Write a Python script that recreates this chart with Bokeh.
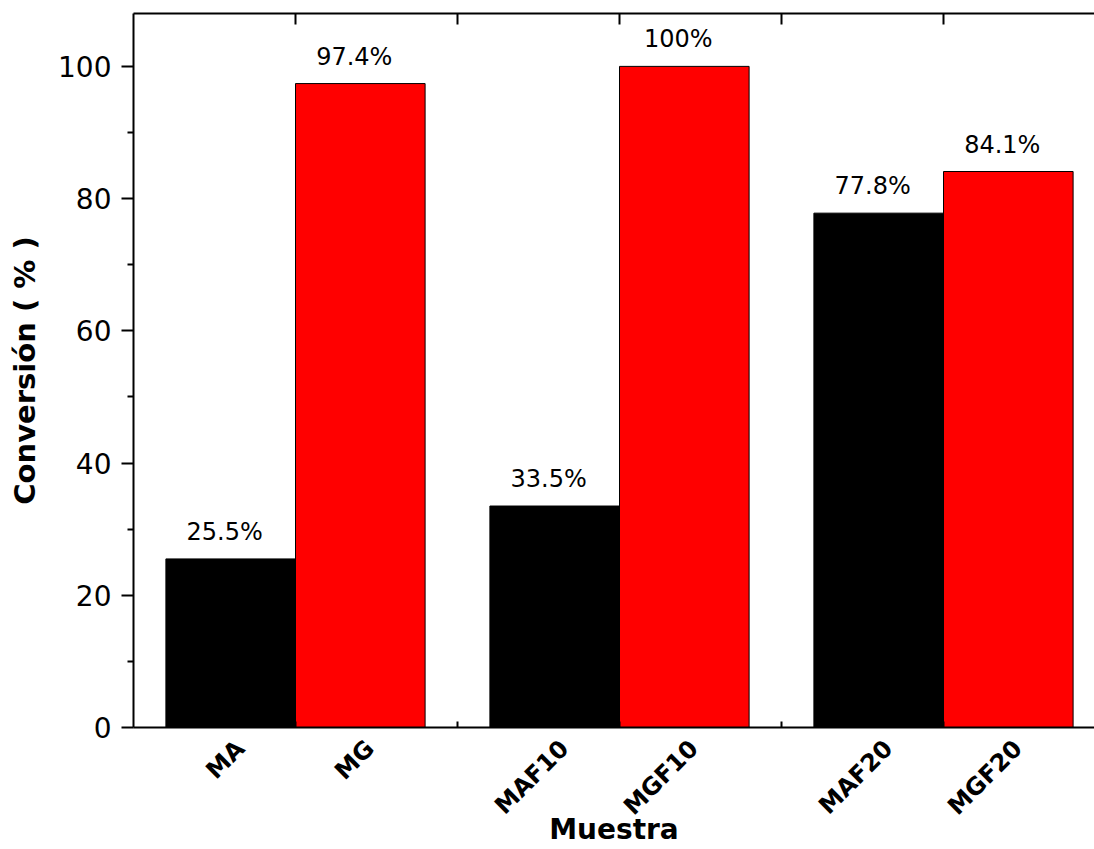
import math
from bokeh.plotting import figure
from bokeh.models import Range1d, FixedTicker, LinearAxis, ColumnDataSource
from bokeh.core.properties import value
from bokeh.embed import file_html
from bokeh.resources import INLINE

# ---- data ----
categories = ["MA", "MG", "MAF10", "MGF10", "MAF20", "MGF20"]
conversion = [25.5, 97.4, 33.5, 100.0, 77.8, 84.1]
value_labels = ["25.5%", "97.4%", "33.5%", "100%", "77.8%", "84.1%"]
y_ticks = [0, 20, 40, 60, 80, 100]
y_minor = [10, 30, 50, 70, 90]
x_title = "Muestra"
y_title = "Conversión ( % )"

# ---- layout / style ----
series_colors = ["#000000", "#FF0000"]
UNIT_PX = 16.2              # pixels per x unit
GROUP_STEP = 20             # x units between group centres
BAR_W = 8                   # x units per bar
LABEL_SHIFT = 0.6           # x units: rotated category labels sit slightly right of bar centre
W, H = 1094, 849
BL, BT, BB = 133, 13, 122
FONT = "DejaVu Sans"

n = len(categories)
xs = [GROUP_STEP // 2 + GROUP_STEP * (i // 2) + (-BAR_W // 2 if i % 2 == 0 else BAR_W // 2) for i in range(n)]
colors = [series_colors[i % 2] for i in range(n)]
label_ticks = [x + LABEL_SHIFT for x in xs]
boundary_ticks = [10, 20, 30, 40, 50]
frame_w = W - BL

p = figure(width=W, height=H,
           x_range=Range1d(0, frame_w / UNIT_PX), y_range=Range1d(0, 108),
           output_backend="svg", toolbar_location=None,
           min_border_left=BL, min_border_right=0, min_border_top=BT, min_border_bottom=BB,
           background_fill_color="white", border_fill_color="white")
p.outline_line_color = None
p.xgrid.visible = False
p.ygrid.visible = False

src = ColumnDataSource(dict(x=xs, top=conversion, color=colors, label=value_labels))
p.vbar(x="x", top="top", bottom=0, width=BAR_W, fill_color="color",
       line_color="black", line_width=1, source=src)
p.text(x="x", y="top", text="label", source=src, text_align="center",
       text_baseline="alphabetic", x_offset=-6, y_offset=-27,
       text_font=value(FONT), text_font_size=value("24px"), text_color="black")

# bottom axis
xa = p.xaxis[0]
xa.ticker = FixedTicker(ticks=label_ticks, minor_ticks=boundary_ticks)
xa.major_label_overrides = {t: c for t, c in zip(label_ticks, categories)}
xa.major_tick_in = 0
xa.major_tick_out = 0
xa.minor_tick_in = 6
xa.minor_tick_out = 0
xa.minor_tick_line_width = 2
xa.minor_tick_line_color = "black"
xa.axis_line_width = 2
xa.axis_line_color = "black"
xa.major_label_orientation = math.pi / 4
xa.major_label_text_font = FONT
xa.major_label_text_font_style = "bold"
xa.major_label_text_font_size = "24px"
xa.major_label_text_color = "black"
xa.major_label_standoff = 17
xa.axis_label = x_title
xa.axis_label_text_font = FONT
xa.axis_label_text_font_style = "bold"
xa.axis_label_text_font_size = "28px"
xa.axis_label_text_color = "black"
xa.axis_label_standoff = -20

# left axis
ya = p.yaxis[0]
ya.ticker = FixedTicker(ticks=y_ticks, minor_ticks=y_minor)
ya.major_tick_in = 0
ya.major_tick_out = 12
ya.minor_tick_in = 0
ya.minor_tick_out = 6
ya.major_tick_line_width = 2
ya.minor_tick_line_width = 2
ya.major_tick_line_color = "black"
ya.minor_tick_line_color = "black"
ya.axis_line_width = 2
ya.axis_line_color = "black"
ya.major_label_text_font = FONT
ya.major_label_text_font_size = "28px"
ya.major_label_text_color = "black"
ya.major_label_standoff = 10
ya.axis_label = y_title
ya.axis_label_text_font = FONT
ya.axis_label_text_font_style = "bold"
ya.axis_label_text_font_size = "29px"
ya.axis_label_text_color = "black"
ya.axis_label_standoff = 13

# top axis (line + inward ticks, no labels)
top = LinearAxis(ticker=FixedTicker(ticks=boundary_ticks, minor_ticks=[]),
                 major_tick_in=11, major_tick_out=0, minor_tick_in=0, minor_tick_out=0,
                 major_tick_line_width=2, major_tick_line_color="black",
                 axis_line_width=2, axis_line_color="black",
                 major_label_overrides={t: "" for t in boundary_ticks},
                 major_label_standoff=0, major_label_text_font_size="1px")
p.add_layout(top, "above")

open("out.html", "w").write(file_html(p, INLINE))
